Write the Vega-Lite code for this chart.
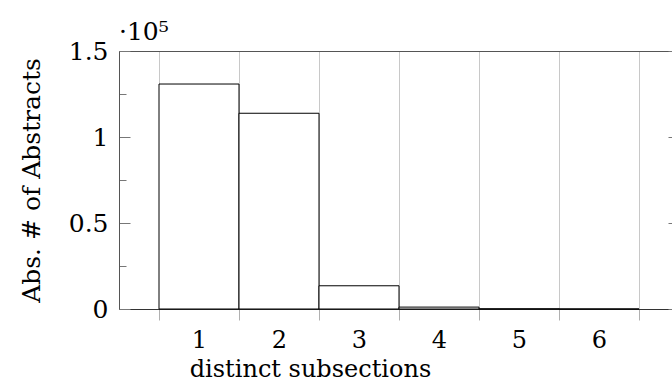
{
  "$schema": "https://vega.github.io/schema/vega-lite/v6.json",
  "width": 553,
  "height": 258,
  "autosize": {"type": "none"},
  "padding": {"left": 119, "top": 51, "right": 0, "bottom": 73},
  "background": "white",
  "config": {
    "view": {"stroke": null},
    "font": "DejaVu Serif",
    "axis": {"labelFont": "DejaVu Serif", "titleFont": "DejaVu Serif", "labelColor": "black", "titleColor": "black", "titleFontWeight": "normal"}
  },
  "title": {"text": "·10⁵", "anchor": "start", "frame": "group", "baseline": "alphabetic", "offset": 10, "dy": 36, "fontSize": 25, "fontWeight": "normal", "font": "DejaVu Serif", "color": "black"},
  "data": {
    "values": [
      {"subsections": 1, "bin_start": 0.5, "bin_end": 1.5, "abstracts": 130800},
      {"subsections": 2, "bin_start": 1.5, "bin_end": 2.5, "abstracts": 113800},
      {"subsections": 3, "bin_start": 2.5, "bin_end": 3.5, "abstracts": 13500},
      {"subsections": 4, "bin_start": 3.5, "bin_end": 4.5, "abstracts": 1100},
      {"subsections": 5, "bin_start": 4.5, "bin_end": 5.5, "abstracts": 120},
      {"subsections": 6, "bin_start": 5.5, "bin_end": 6.5, "abstracts": 20}
    ]
  },
  "layer": [
    {
      "mark": {"type": "rect", "fill": "white", "stroke": "black", "strokeWidth": 1},
      "encoding": {
        "x": {
          "field": "bin_start", "type": "quantitative",
          "scale": {"domain": [0, 6.9125], "nice": false, "zero": false},
          "axis": {
            "orient": "bottom",
            "values": [0.5, 1, 1.5, 2, 2.5, 3, 3.5, 4, 4.5, 5, 5.5, 6, 6.5],
            "grid": true, "gridColor": "#c8c8c8",
            "gridOpacity": {"condition": {"test": "datum.value % 1 == 0", "value": 0}, "value": 1},
            "ticks": true, "tickColor": "#b0b0b0",
            "tickSize": {"condition": {"test": "datum.value % 1 == 0", "value": 0}, "value": 11},
            "labelExpr": "datum.value % 1 == 0 ? '' + datum.value : ''",
            "labelFontSize": 24, "labelBaseline": "alphabetic", "labelPadding": 38,
            "labelOverlap": false, "labelFlush": false, "labelBound": false,
            "domain": true, "domainColor": "#333",
            "title": "distinct subsections", "titleX": 191, "titleY": 67, "titleAlign": "center", "titleBaseline": "alphabetic", "titleFontSize": 24
          }
        },
        "x2": {"field": "bin_end"},
        "y": {
          "field": "abstracts", "type": "quantitative",
          "scale": {"domain": [0, 150000], "nice": false},
          "axis": {
            "orient": "left",
            "values": [0, 25000, 50000, 75000, 100000, 125000, 150000],
            "grid": false, "domain": true, "domainColor": "#555",
            "ticks": true, "tickColor": "#777",
            "tickSize": {"condition": {"test": "datum.value % 50000 == 0", "value": -11}, "value": -7},
            "labelExpr": "datum.value % 50000 == 0 ? '' + datum.value / 100000 : ''",
            "labelPadding": 22, "labelFontSize": 25,
            "labelOverlap": false, "labelFlush": false, "labelBound": false,
            "title": "Abs. # of Abstracts", "titleX": -88, "titleY": 129, "titleAngle": 270, "titleAlign": "center", "titleBaseline": "middle", "titleFontSize": 25
          }
        },
        "y2": {"datum": 0}
      }
    },
    {
      "mark": {"type": "rect", "opacity": 0},
      "encoding": {
        "x": {"field": "bin_start", "type": "quantitative",
          "axis": {"orient": "top", "domain": true, "domainColor": "#555", "ticks": false, "labels": false, "grid": false, "title": null}},
        "x2": {"field": "bin_end"},
        "y": {"field": "abstracts", "type": "quantitative",
          "axis": {"orient": "right", "values": [0, 50000, 100000, 150000], "domain": false, "ticks": true, "tickSize": -4, "tickColor": "#777", "labels": false, "grid": false, "title": null}},
        "y2": {"datum": 0}
      }
    }
  ],
  "resolve": {"axis": {"x": "independent", "y": "independent"}}
}
